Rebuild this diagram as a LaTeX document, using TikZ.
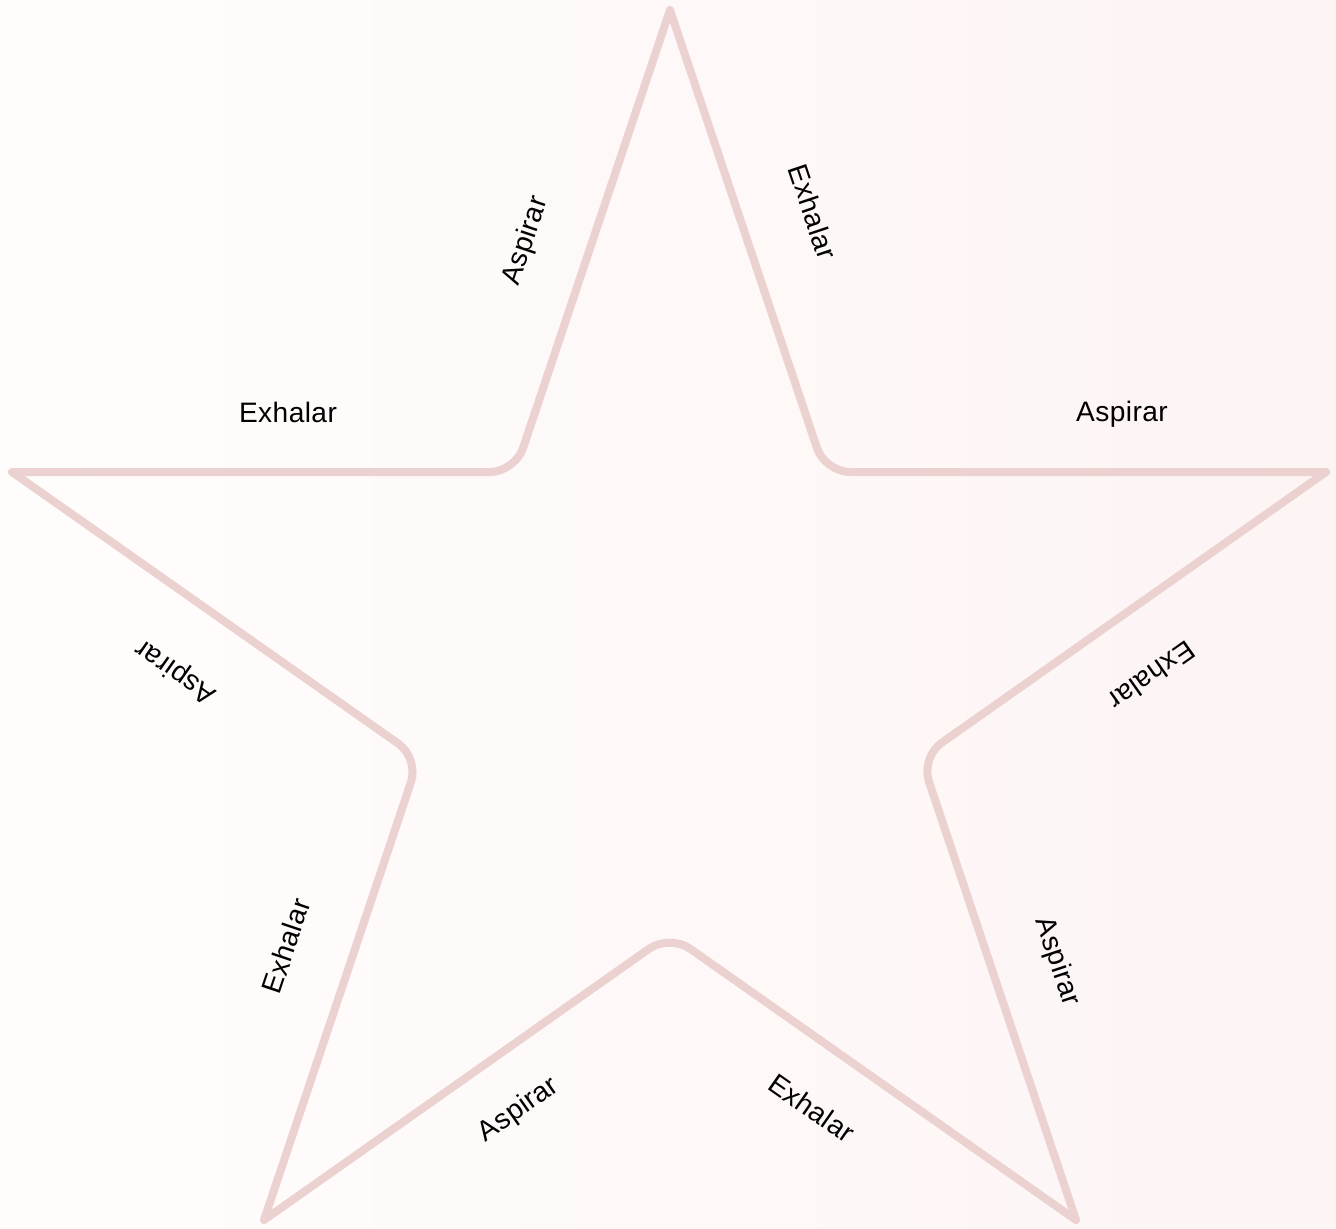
\documentclass[tikz,border=0pt]{standalone}
\usepackage{fontspec}
\setmainfont[LetterSpace=1.5]{Liberation Sans}
\definecolor{starpink}{HTML}{EBD1CF}
\definecolor{bgleft}{HTML}{FFFDFC}
\definecolor{bgright}{HTML}{FDF4F4}
\begin{document}
\begin{tikzpicture}[x = {(0.02cm,0cm)},
  y = {(0cm,-0.02cm)},
  starline/.style={draw=starpink, line width=0.16cm, line join=round},
  breath/.style={font=\fontsize{16}{19}\selectfont, text=black, inner sep=0pt}]

  % background
  \shade[left color=bgleft, right color=bgright] (0,0) rectangle (1336,1228);
  \useasboundingbox (0,0) rectangle (1336,1228);

  % tips
  \coordinate (T) at (670,10);
  \coordinate (R) at (1326,472);
  \coordinate (BR) at (1076,1220);
  \coordinate (BL) at (264,1220);
  \coordinate (L) at (12,472);

  % inner corners
  \coordinate (I1) at (intersection of T--BR and L--R);
  \coordinate (I2) at (intersection of R--BL and T--BR);
  \coordinate (I3) at (intersection of R--BL and L--BR);
  \coordinate (I4) at (intersection of L--BR and T--BL);
  \coordinate (I5) at (intersection of T--BL and L--R);

  % star
  \draw[starline] (T) [rounded corners=0.5cm] -- (I1) [sharp corners] -- (R)
  [rounded corners=0.5cm] -- (I2) [sharp corners] -- (BR)
  [rounded corners=0.5cm] -- (I3) [sharp corners] -- (BL)
  [rounded corners=0.5cm] -- (I4) [sharp corners] -- (L)
  [rounded corners=0.5cm] -- (I5) [sharp corners] -- cycle;

  % labels
  \foreach \n/\p/\a/\t in {1/{526,241}/71.45/Aspirar,
    2/{813,212}/-71.45/Exhalar,
    3/{1122,414}/0/Aspirar,
    4/{1152,676}/215.2/Exhalar,
    5/{1057,962}/-71.45/Aspirar,
    6/{812,1108}/-35.1/Exhalar,
    7/{519,1110}/35.1/Aspirar,
    8/{286,946}/71.45/Exhalar,
    9/{176,671}/144.9/Aspirar,
    10/{288,412}/0/Exhalar}
  \node[breath, rotate=\a] (lab\n) at (\p) {\t};
\end{tikzpicture}
\end{document}
